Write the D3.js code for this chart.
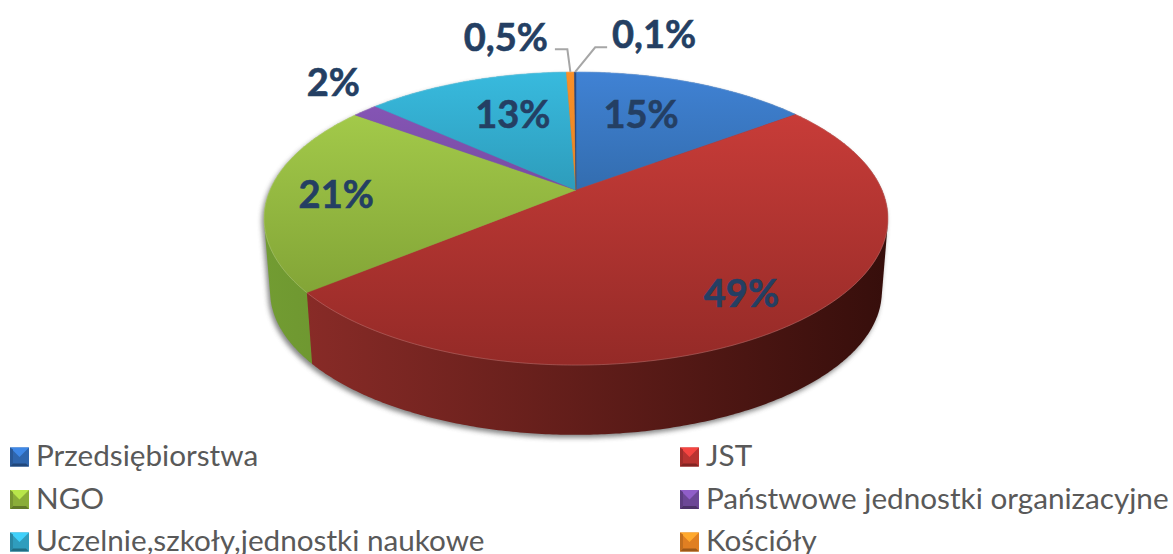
<!DOCTYPE html>
<html><head><meta charset="utf-8">
<script src="https://cdn.jsdelivr.net/npm/d3@7/dist/d3.min.js"></script>
<style>html,body{margin:0;padding:0;background:#fff}svg{display:block}text{font-family:Lato,"Open Sans",sans-serif}</style>
</head><body><svg id="c" width="1173" height="554"></svg>
<script>
// ---- data ----
const categories = ["Przedsiębiorstwa","JST","NGO","Państwowe jednostki organizacyjne","Uczelnie,szkoły,jednostki naukowe","Kościóły","Inne"];
const values = [14.8,49.2,21.1,1.6,12.7,0.5,0.1];
const valueLabels = ["15%","49%","21%","2%","13%","0,5%","0,1%"];
const legendCount = 6;
// ---- styles ----
const topLight = ["#4082d4","#d03f3b","#aad24e","#8a58bb","#38bade","#fa9028","#2a4c86"];
const topDark  = ["#1f4d78","#942a27","#76962f","#5c3a80","#1e7088","#c8701c","#1e3660"];
const wallLight= ["#2f6098","#8e2d29","#729c32","#5f3d85","#2a8aa5","#b86a1c","#1e3660"];
const wallDark = ["#143050","#360e0b","#4a6420","#38224f","#145060","#70400f","#12213a"];
const legendColor = ["#2f66ae","#b93431","#8aad38","#6c4796","#2f9dbd","#e07f22"];
// label layout: radial fraction, then pixel nudge
const labelFrac = [.65,.78,.8,1.1,.6,1.1,1.1];
const labelNudge= [[-15,-2],[-2,6],[6,1],[-13,-21],[7,-6],[-64,-25],[79,-28]];
// ---- perspective projection of the disc ----
const cx=576, k=0.1946;
const planes={top:{B:306,A:141,y0:190},bot:{B:300,A:138,y0:263.5}};
function proj(pl,t,f=1){const w=1+k*f*Math.cos(t);return [cx+pl.B*f*Math.sin(t)/w, pl.y0-pl.A*f*Math.cos(t)/w];}
const svg=d3.select("#c"), defs=svg.append("defs");
const pie=d3.pie().sort(null).value(d=>d)(values);
pie.forEach((p,i)=>p.i=i);
const line=d3.line();
const sample=(a,b)=>{const n=Math.max(2,Math.ceil((b-a)/0.01));return d3.range(n+1).map(i=>a+(b-a)*i/n);};
const grad=(id,x1,y1,x2,y2,stops)=>{const g=defs.append("linearGradient").attr("id",id).attr("gradientUnits","userSpaceOnUse")
  .attr("x1",x1).attr("y1",y1).attr("x2",x2).attr("y2",y2);
  stops.forEach(s=>g.append("stop").attr("offset",s[0]).attr("stop-color",s[1]));};
pie.forEach((p,i)=>{grad("t"+i,0,72,0,365,[[0,topLight[i]],[1,topDark[i]]]);
  grad("w"+i,264,0,888,0,[[0,wallLight[i]],[1,wallDark[i]]]);});
const blur=defs.append("filter").attr("id","sh").attr("x","-5%").attr("y","-5%").attr("width","110%").attr("height","115%");
blur.append("feGaussianBlur").attr("stdDeviation",2.5);
// shadow
const rim=sample(0,2*Math.PI);
svg.append("path").attr("d",line(d3.polygonHull(rim.map(t=>{const q=proj(planes.bot,t);return [q[0]-2,q[1]+3];}).concat(rim.map(t=>{const q=proj(planes.top,t);return [q[0]-2,q[1]+3];}))))+"Z").attr("fill","#666").attr("opacity",.8).attr("filter","url(#sh)");
// walls, back to front
const wallG=svg.append("g");
pie.slice().sort((a,b)=>Math.cos((b.startAngle+b.endAngle)/2)-Math.cos((a.startAngle+a.endAngle)/2)).forEach(p=>{
  const ts=sample(p.startAngle,p.endAngle);
  const pts=d3.polygonHull(ts.map(t=>proj(planes.top,t)).concat(ts.map(t=>proj(planes.bot,t))));
  wallG.append("path").attr("d",line(pts)+"Z").attr("fill",`url(#w${p.i})`);
});
// top face
const faceG=svg.append("g");
pie.forEach((p,i)=>{
  const ts=sample(p.startAngle,p.endAngle);
  const pts=[[cx,planes.top.y0]].concat(ts.map(t=>proj(planes.top,t)));
  faceG.append("path").attr("d",line(pts)+"Z").attr("fill",`url(#t${i})`).attr("stroke",`url(#t${i})`).attr("stroke-width",.5);
  faceG.append("path").attr("d",line(ts.map(t=>proj(planes.top,t)))).attr("fill","none")
    .attr("stroke","#fff").attr("stroke-opacity",.18).attr("stroke-width",1);
});
// leaders
[5,6].forEach(i=>{
  const mid=(pie[i].startAngle+pie[i].endAngle)/2, a=proj(planes.top,mid), o=proj(planes.top,mid,labelFrac[i]);
  const n=labelNudge[i], lx=o[0]+n[0]+(i==5?49:-47), ly=o[1]+n[1]+(i==5?12:13);
  svg.append("path").attr("d",line([a,[a[0]+(i==5?-3:20),ly],[lx,ly]])).attr("fill","none").attr("stroke","#a6a6a6").attr("stroke-width",2);
});
// labels
pie.forEach((p,i)=>{
  const mid=(p.startAngle+p.endAngle)/2, o=proj(planes.top,mid,labelFrac[i]), n=labelNudge[i];
  svg.append("text").attr("x",o[0]+n[0]).attr("y",o[1]+n[1]).attr("dy",".35em").attr("text-anchor","middle")
    .attr("font-size",38).attr("font-weight",700).attr("fill","#243f63").attr("stroke","#243f63").attr("stroke-width",.6).text(valueLabels[i]);
});
// legend
const xCol=d3.scalePoint().domain([0,1]).range([10,680]);
const yRow=d3.scalePoint().domain([0,1,2]).range([457,542]);
const leg=svg.selectAll("g.l").data(categories.slice(0,legendCount)).join("g").attr("class","l")
  .attr("transform",(d,i)=>`translate(${xCol(i%2)},${yRow(Math.floor(i/2))})`);
const s=19;
leg.append("rect").attr("x",0).attr("y",-s/2).attr("width",s).attr("height",s).attr("fill",(d,i)=>legendColor[i]);
leg.append("path").attr("d",line([[0,-s/2],[s,-s/2],[s/2,0]])+"Z").attr("fill",(d,i)=>d3.color(legendColor[i]).brighter(.8));
leg.append("path").attr("d",line([[0,s/2],[s,s/2],[s-3,s/2-3],[3,s/2-3]])+"Z").attr("fill",(d,i)=>d3.color(legendColor[i]).darker(1));
leg.append("path").attr("d",line([[0,-s/2],[0,s/2],[3,s/2-3],[3,-s/2+2]])+"Z").attr("fill",(d,i)=>d3.color(legendColor[i]).darker(.4));
leg.append("text").attr("x",s+7).attr("y",0).attr("dy",".31em").attr("font-size",29.7).attr("fill","#595959").text(d=>d);
</script></body></html>
